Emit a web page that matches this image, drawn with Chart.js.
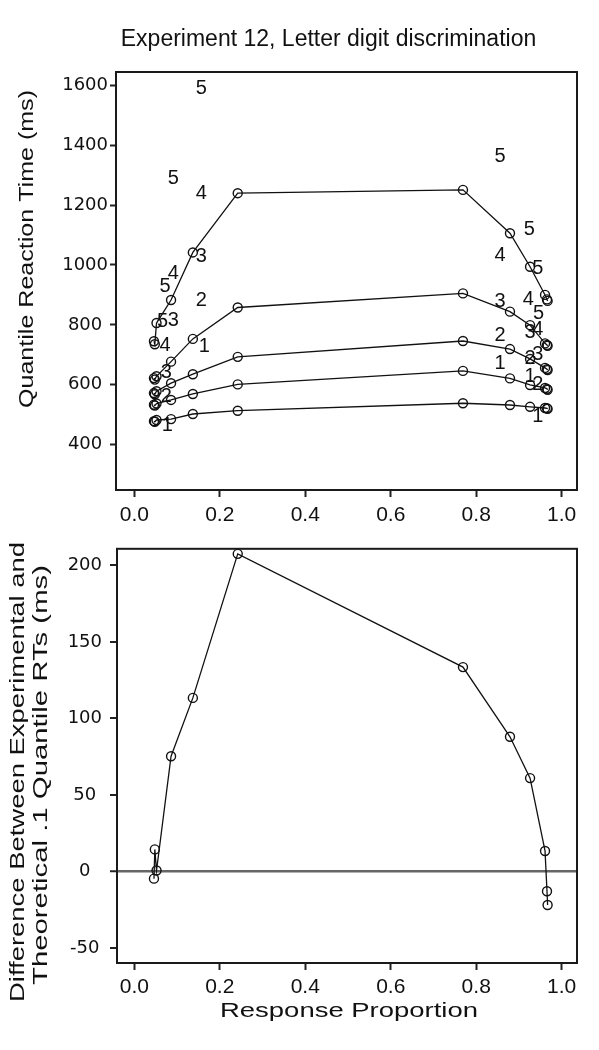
<!DOCTYPE html>
<html><head><meta charset="utf-8">
<script src="https://cdn.jsdelivr.net/npm/chart.js@4/dist/chart.umd.min.js"></script>
<style>
html,body{margin:0;padding:0;background:#fff;}
#wrap{position:relative;width:599px;height:1050px;overflow:hidden;}
#c1{position:absolute;left:0;top:0;width:599px;height:530px;}
#c2{position:absolute;left:0;top:530px;width:599px;height:520px;}
</style></head><body>
<div id="wrap">
<canvas id="c1" width="599" height="530"></canvas>
<canvas id="c2" width="599" height="520"></canvas>
</div>
<script>
// ---- data ----
const chartTitle = "Experiment 12, Letter digit discrimination";
const proportion = [0.046, 0.048, 0.052, 0.086, 0.137, 0.242, 0.769, 0.879, 0.926, 0.961, 0.9656, 0.967];
const q1 = [478, 476, 482, 485, 502, 513, 538, 532, 526, 522, 521, 519];
const q2 = [533, 530, 537, 549, 569, 601, 646, 621, 599, 589, 586, 583];
const q3 = [572, 568, 578, 605, 635, 693, 746, 719, 686, 656, 652, 649];
const q4 = [622, 617, 628, 677, 753, 858, 905, 844, 799, 738, 733, 730];
const q5 = [745, 735, 806, 883, 1042, 1240, 1251, 1106, 994, 900, 885, 880];
const diff01 = [-4.7, 14.4, 0.6, 75.3, 113.4, 207.5, 133.5, 88, 61, 13.4, -12.9, -21.9];
// predicted quantile labels (digit = quantile number)
const predX1 = [0.164, 0.856, 0.926, 0.944, 0.077];
const predY1 = [727, 671, 627, 493, 465];
const predX2 = [0.157, 0.856, 0.926, 0.944, 0.075];
const predY2 = [883, 766, 689, 600, 560];
const predX3 = [0.157, 0.091, 0.856, 0.926, 0.944, 0.075];
const predY3 = [1028, 816, 877, 773, 700, 640];
const predX4 = [0.157, 0.091, 0.856, 0.922, 0.944, 0.072];
const predY4 = [1240, 972, 1033, 886, 783, 730];
const predX5 = [0.157, 0.091, 0.072, 0.066, 0.856, 0.924, 0.944, 0.946];
const predY5 = [1591, 1290, 927, 810, 1362, 1117, 989, 838];
const xTickValues = [0, 0.2, 0.4, 0.6, 0.8, 1.0];
const rtTickValues = [400, 600, 800, 1000, 1200, 1400, 1600];
const diffTickValues = [-50, 0, 50, 100, 150, 200];
const xTitle = "Response Proportion";
const rtTitle = "Quantile Reaction Time (ms)";
const diffTitle1 = "Difference Between Experimental and";
const diffTitle2 = "Theoretical .1 Quantile RTs (ms)";

// ---- helpers ----
const INK = '#111';
const pts = (xs, ys) => xs.map((x, i) => ({x: x, y: ys[i]}));
const SANS = '"Liberation Sans", Arial, sans-serif';

const framePlugin = {
  id: 'frame',
  afterDraw(chart) {
    const {ctx, chartArea: a} = chart;
    ctx.save();
    ctx.strokeStyle = '#1a1a1a';
    ctx.lineWidth = 2;
    ctx.strokeRect(a.left, a.top, a.right - a.left, a.bottom - a.top);
    ctx.restore();
  }
};
const textPlugin = {
  id: 'texts',
  afterDraw(chart, args, opts) {
    const ctx = chart.ctx;
    (opts.items || []).forEach(it => {
      ctx.save();
      ctx.translate(it.x, it.y);
      if (it.rot) ctx.rotate(it.rot);
      ctx.font = it.font;
      ctx.fillStyle = INK;
      ctx.textAlign = 'center';
      ctx.textBaseline = 'middle';
      if (it.len) {
        const w = ctx.measureText(it.text).width;
        ctx.scale(it.len / w, 1);
      }
      ctx.fillText(it.text, 0, 0);
      ctx.restore();
    });
  }
};
const digitPlugin = {
  id: 'digits',
  afterDatasetsDraw(chart) {
    const ctx = chart.ctx;
    chart.data.datasets.forEach((ds, i) => {
      if (!ds.digit) return;
      const meta = chart.getDatasetMeta(i);
      ctx.save();
      ctx.font = '20px ' + SANS;
      ctx.fillStyle = INK;
      ctx.textAlign = 'center';
      ctx.textBaseline = 'middle';
      meta.data.forEach(el => ctx.fillText(ds.digit, el.x, el.y));
      ctx.restore();
    });
  }
};

function lineDs(data) {
  return {
    data: data, showLine: true, borderColor: INK, borderWidth: 1.3,
    pointRadius: 4.5, pointBorderWidth: 1.4, pointBorderColor: INK,
    pointBackgroundColor: 'rgba(0,0,0,0)', tension: 0
  };
}
function digitDs(d, data) {
  return { digit: d, data: data, showLine: false, pointRadius: 0, pointHoverRadius: 0 };
}
function xScale(min, tl, pad) {
  return {
    type: 'linear', min: min, max: 1.0358,
    afterBuildTicks: s => { s.ticks = xTickValues.map(v => ({value: v})); },
    afterFit: s => { s.height = 40; },
    ticks: { autoSkip: false, maxRotation: 0, padding: pad, color: INK,
      font: {family: SANS, size: 21}, callback: v => Number(v).toFixed(1) },
    grid: { drawOnChartArea: false, drawTicks: true, tickLength: tl, tickColor: '#222', tickWidth: 2 },
    border: { display: false }
  };
}
const plainNum = v => String(v);

Chart.defaults.animation = false;

new Chart(document.getElementById('c1'), {
  type: 'scatter',
  data: { datasets: [
    lineDs(pts(proportion, q1)), lineDs(pts(proportion, q2)), lineDs(pts(proportion, q3)),
    lineDs(pts(proportion, q4)), lineDs(pts(proportion, q5)),
    digitDs('1', pts(predX1, predY1)), digitDs('2', pts(predX2, predY2)),
    digitDs('3', pts(predX3, predY3)), digitDs('4', pts(predX4, predY4)),
    digitDs('5', pts(predX5, predY5))
  ]},
  options: {
    responsive: false, devicePixelRatio: 1, animation: false,
    layout: { padding: { top: 72, right: 22, left: 0, bottom: 0 } },
    plugins: {
      legend: { display: false }, tooltip: { enabled: false },
      texts: { items: [
        { text: chartTitle, x: 328.5, y: 40, font: '23px ' + SANS },
        { text: rtTitle, x: 27, y: 249, rot: -Math.PI / 2, font: '20px ' + SANS, len: 318 }
      ]}
    },
    scales: {
      x: xScale(-0.0428, 7, 6),
      y: {
        type: 'linear', min: 248, max: 1645,
        afterBuildTicks: s => { s.ticks = rtTickValues.map(v => ({value: v})); },
        afterFit: s => { s.width = 116; },
        ticks: { crossAlign: 'center', padding: 2, color: INK, callback: plainNum,
          font: {family: '"DejaVu Sans"', size: 18} },
        grid: { drawOnChartArea: false, tickLength: 6, tickColor: '#222', tickWidth: 2 },
        border: { display: false }
      }
    }
  },
  plugins: [framePlugin, textPlugin, digitPlugin]
});

new Chart(document.getElementById('c2'), {
  type: 'scatter',
  data: { datasets: [ lineDs(pts(proportion, diff01)) ] },
  options: {
    responsive: false, devicePixelRatio: 1, animation: false,
    layout: { padding: { top: 13, right: 22, left: 0, bottom: 47 } },
    plugins: {
      legend: { display: false }, tooltip: { enabled: false },
      texts: { items: [
        { text: xTitle, x: 349, y: 481.5, font: '20px ' + SANS, len: 258 },
        { text: diffTitle1, x: 18, y: 242, rot: -Math.PI / 2, font: '20px ' + SANS, len: 460 },
        { text: diffTitle2, x: 41, y: 245, rot: -Math.PI / 2, font: '20px ' + SANS, len: 420 }
      ]}
    },
    scales: {
      x: xScale(-0.0405, 7, 5),
      y: {
        type: 'linear', min: -59.8, max: 210.8,
        afterBuildTicks: s => { s.ticks = diffTickValues.map(v => ({value: v})); },
        afterFit: s => { s.width = 117; },
        ticks: { crossAlign: 'center', padding: 8, color: INK, callback: plainNum,
          font: {family: '"DejaVu Sans"', size: 18} },
        grid: {
          drawOnChartArea: true, tickLength: 7, tickColor: '#222', tickWidth: 2,
          color: c => (c.tick && c.tick.value === 0) ? '#666' : 'rgba(0,0,0,0)',
          lineWidth: c => (c.tick && c.tick.value === 0) ? 2.5 : 0
        },
        border: { display: false }
      }
    }
  },
  plugins: [framePlugin, textPlugin]
});
</script>
</body></html>
